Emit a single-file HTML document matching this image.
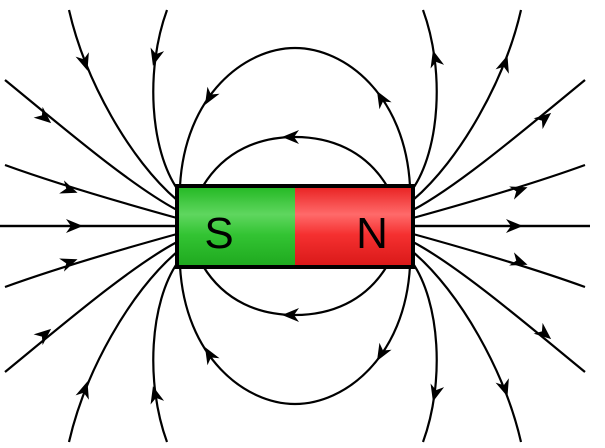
<!DOCTYPE html>
<html><head><style>
html,body{margin:0;padding:0;background:#fff;width:605px;height:448px;overflow:hidden}
</style></head><body>
<svg width="605" height="448" viewBox="0 0 605 448" xmlns="http://www.w3.org/2000/svg">
<defs>
<linearGradient id="g" x1="0" y1="0" x2="0" y2="1">
<stop offset="0" stop-color="#22b822"/><stop offset="0.35" stop-color="#5fd65f"/><stop offset="0.6" stop-color="#33c433"/><stop offset="1" stop-color="#1ea81e"/></linearGradient>
<linearGradient id="r" x1="0" y1="0" x2="0" y2="1">
<stop offset="0" stop-color="#e82020"/><stop offset="0.35" stop-color="#ff6a6a"/><stop offset="0.6" stop-color="#f53030"/><stop offset="1" stop-color="#d81818"/></linearGradient>
<g id="q" fill="none" stroke="#000" stroke-width="2.2">
<path d="M0,226 L177,226"/>
<path d="M5,165 C60,185 130,205 177,218"/>
<path d="M5,80 C60,125 130,185 177,210"/>
<path d="M69,10 C85,80 130,160 177,200"/>
<path d="M167,10 C145,70 150,150 178,190"/>
<path d="M180,186 C185,95 245,48 295,48"/>
<path d="M203,186 C225,150 260,137 295,137"/>
</g>
<polygon id="a" points="8,0 -9,-7 -4,0 -9,7" fill="#000"/>
</defs>
<use href="#q"/>
<use href="#q" transform="translate(590,0) scale(-1,1)"/>
<use href="#q" transform="translate(0,452) scale(1,-1)"/>
<use href="#q" transform="translate(590,452) scale(-1,-1)"/>
<g>
<use href="#a" transform="translate(75,226) rotate(0)"/>
<use href="#a" transform="translate(70,190) rotate(20)"/>
<use href="#a" transform="translate(45,118) rotate(40)"/>
<use href="#a" transform="translate(85,63) rotate(72)"/>
<use href="#a" transform="translate(155,58) rotate(105)"/>
<use href="#a" transform="translate(515,226) rotate(0)"/>
<use href="#a" transform="translate(520,190) rotate(-20)"/>
<use href="#a" transform="translate(545,118) rotate(-40)"/>
<use href="#a" transform="translate(505,63) rotate(-72)"/>
<use href="#a" transform="translate(435,58) rotate(-105)"/>
<use href="#a" transform="translate(70,262) rotate(-20)"/>
<use href="#a" transform="translate(45,334) rotate(-40)"/>
<use href="#a" transform="translate(85,389) rotate(-72)"/>
<use href="#a" transform="translate(155,394) rotate(-105)"/>
<use href="#a" transform="translate(520,262) rotate(20)"/>
<use href="#a" transform="translate(545,334) rotate(40)"/>
<use href="#a" transform="translate(505,389) rotate(72)"/>
<use href="#a" transform="translate(435,394) rotate(105)"/>
<use href="#a" transform="translate(209,98) rotate(120)"/>
<use href="#a" transform="translate(381,98) rotate(-120)"/>
<use href="#a" transform="translate(290,137) rotate(180)"/>
<use href="#a" transform="translate(290,315) rotate(180)"/>
<use href="#a" transform="translate(209,354) rotate(-120)"/>
<use href="#a" transform="translate(381,354) rotate(120)"/>
</g>
<rect x="177" y="186" width="118" height="81" fill="url(#g)"/>
<rect x="295" y="186" width="118" height="81" fill="url(#r)"/>
<rect x="177" y="186" width="236" height="81" fill="none" stroke="#000" stroke-width="4"/>
<text x="219" y="248" font-family="Liberation Sans, sans-serif" font-size="44" text-anchor="middle" fill="#000">S</text>
<text x="372" y="248" font-family="Liberation Sans, sans-serif" font-size="44" text-anchor="middle" fill="#000">N</text>
</svg>
</body></html>
